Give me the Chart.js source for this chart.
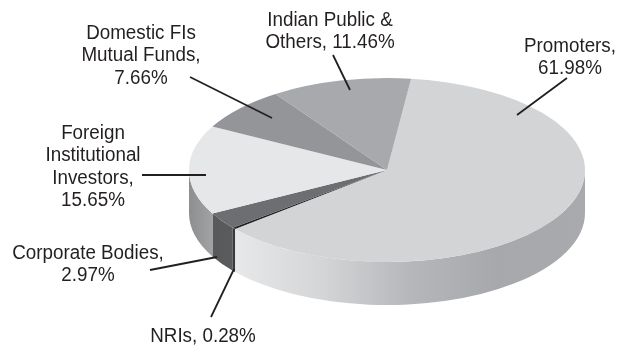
<!DOCTYPE html>
<html>
<head>
<meta charset="utf-8">
<script src="https://cdn.jsdelivr.net/npm/chart.js@4.4.1/dist/chart.umd.min.js"></script>
<style>
html, body { margin: 0; padding: 0; background: #fff; }
#wrap { width: 620px; height: 346px; position: relative; }
</style>
</head>
<body>
<div id="wrap"><canvas id="pie"></canvas></div>
<script>
// shareholding pattern, clockwise from the top
const categories = ['Promoters', 'NRIs', 'Corporate Bodies', 'Foreign\nInstitutional\nInvestors', 'Domestic FIs\nMutual Funds', 'Indian Public &\nOthers'];
const shares = [61.98, 0.28, 2.97, 15.65, 7.66, 11.46];

const topColors = ['#d3d4d6', '#231f20', '#6d6e71', '#e6e7e8', '#939598', '#a7a9ac'];
// wall shading, left to right
const sideColors = [
    ['#e7e8ea', '#d4d5d7', '#b6b7ba', '#a7a8ab', '#a9aaad'],
    ['#3a3a3c', '#3a3a3c'],
    ['#58595b', '#5a5b5d'],
    ['#8d8e90', '#a1a2a4'],
    ['#77787b', '#77787b'],
    ['#8a8b8e', '#8a8b8e']
];

// top face ellipse and wall height
const CX = 387, CY = 170, RX = 198, RY = 92, DEPTH = 43;

// label centre, separator before the value, leader line [x1, y1, x2, y2]
const labelLayout = [
    { x: 570, y: 46, sep: '\n', line: [567, 78, 517, 115] },
    { x: 203, y: 336, sep: ' ', line: [211, 317, 234, 269] },
    { x: 88, y: 253, sep: '\n', line: [150, 270, 217, 257] },
    { x: 93, y: 133, sep: '\n', line: [142, 175, 206, 175] },
    { x: 141, y: 33, sep: '\n', line: [190, 77, 272, 118] },
    { x: 330, y: 20, sep: ' ', line: [333, 55, 350, 90] }
];
const LINE_H = 22.5;

function drawWalls(ctx, arcs) {
    arcs.forEach((arc, i) => {
        // only the part facing us (0..PI on the canvas) is visible
        for (let k = -1; k <= 1; k++) {
            const lo = k * 2 * Math.PI, hi = lo + Math.PI;
            const s = Math.max(arc.startAngle, lo), e = Math.min(arc.endAngle, hi);
            if (e <= s) continue;
            const xr = CX + RX * Math.cos(s), xl = CX + RX * Math.cos(e);
            const grad = ctx.createLinearGradient(xl, 0, xr, 0);
            const stops = sideColors[i];
            stops.forEach((c, j) => grad.addColorStop(j / (stops.length - 1), c));
            ctx.beginPath();
            ctx.ellipse(CX, CY, RX, RY, 0, s, e, false);
            ctx.lineTo(CX + RX * Math.cos(e), CY + DEPTH + RY * Math.sin(e));
            ctx.ellipse(CX, CY + DEPTH, RX, RY, 0, e, s, true);
            ctx.closePath();
            ctx.fillStyle = grad;
            ctx.fill();
        }
    });
}

const pie3d = {
    id: 'pie3d',
    beforeDatasetsDraw(chart) {
        const ctx = chart.ctx;
        const arcs = chart.getDatasetMeta(0).data;
        drawWalls(ctx, arcs);
        // squash the flat pie onto the top face
        const { x, y, outerRadius } = arcs[0];
        ctx.save();
        ctx.translate(CX, CY);
        ctx.scale(RX / outerRadius, RY / outerRadius);
        ctx.translate(-x, -y);
    },
    afterDatasetsDraw(chart) {
        const ctx = chart.ctx;
        ctx.restore();
        ctx.save();
        ctx.fillStyle = '#231f20';
        ctx.strokeStyle = '#231f20';
        ctx.lineWidth = 1.8;
        ctx.font = '20px "Liberation Sans", Arial, sans-serif';
        ctx.textAlign = 'center';
        ctx.textBaseline = 'middle';
        categories.forEach((name, i) => {
            const lay = labelLayout[i];
            const text = name + ',' + lay.sep + shares[i].toFixed(2) + '%';
            text.split('\n').forEach((ln, j) => {
                // slightly narrow lettering
                ctx.save();
                ctx.translate(lay.x, lay.y + j * LINE_H);
                ctx.scale(0.94, 1);
                ctx.fillText(ln, 0, 0);
                ctx.restore();
            });
            const [x1, y1, x2, y2] = lay.line;
            ctx.beginPath();
            ctx.moveTo(x1, y1);
            ctx.lineTo(x2, y2);
            ctx.stroke();
        });
        ctx.restore();
    }
};

new Chart(document.getElementById('pie'), {
    type: 'pie',
    data: {
        labels: categories,
        datasets: [{
            data: shares,
            backgroundColor: topColors,
            borderWidth: 0,
            clip: false
        }]
    },
    options: {
        responsive: true,
        maintainAspectRatio: false,
        animation: false,
        events: [],
        rotation: 7,
        layout: { padding: 0 },
        plugins: {
            legend: { display: false },
            tooltip: { enabled: false }
        }
    },
    plugins: [pie3d]
});
</script>
</body>
</html>
